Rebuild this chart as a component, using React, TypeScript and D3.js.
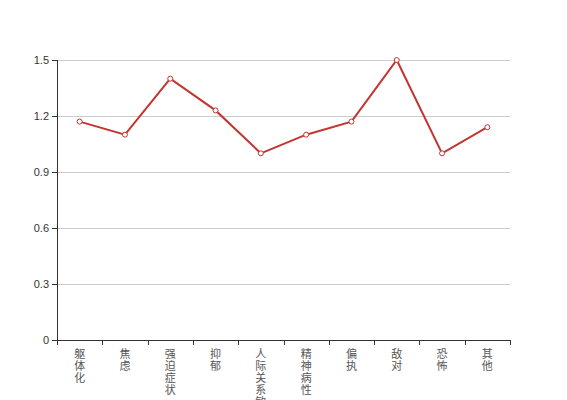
import React from "react";
import * as d3 from "d3";

const categories = ["躯体化", "焦虑", "强迫症状", "抑郁", "人际关系敏感", "精神病性", "偏执", "敌对", "恐怖", "其他"];
const values = [1.17, 1.1, 1.4, 1.23, 1.0, 1.1, 1.17, 1.5, 1.0, 1.14];
const yTicks = [0, 0.3, 0.6, 0.9, 1.2, 1.5];

const W = 567, H = 400;
const left = 57, right = 510, top = 60, bottom = 340;

export default function App() {
  const x = d3.scaleBand<string>().domain(categories).range([left, right]);
  const y = d3.scaleLinear().domain([0, 1.5]).range([bottom, top]);
  const line = d3.line<number>()
    .x((_, i) => (x(categories[i]) as number) + x.bandwidth() / 2)
    .y((d) => y(d));
  const font = "'Liberation Sans', 'Noto Sans CJK SC', sans-serif";
  const bounds = [...categories.map((c) => x(c) as number), right];
  return (
    <svg width={W} height={H} style={{ position: "absolute", left: 0, top: 0 }} fontFamily={font}>
      <rect width={W} height={H} fill="#fff" />
      {yTicks.filter((t) => t > 0).map((t) => (
        <line key={"g" + t} x1={left} x2={right} y1={y(t) + 0.5} y2={y(t) + 0.5} stroke="#ccc" />
      ))}
      {yTicks.map((t) => (
        <g key={"t" + t}>
          <line x1={left - 5} x2={left} y1={y(t) + 0.5} y2={y(t) + 0.5} stroke="#333" />
          <text x={left - 8} y={y(t)} dy="0.35em" textAnchor="end" fontSize={11} fill="#333">{String(t)}</text>
        </g>
      ))}
      <line x1={left + 0.5} x2={left + 0.5} y1={top} y2={bottom} stroke="#333" />
      <line x1={left} x2={right} y1={bottom + 0.5} y2={bottom + 0.5} stroke="#333" />
      {bounds.map((b, i) => (
        <line key={"xt" + i} x1={Math.round(b) + 0.5} x2={Math.round(b) + 0.5} y1={bottom} y2={bottom + 5} stroke="#333" />
      ))}
      {categories.map((c) => (
        <text key={c} x={(x(c) as number) + x.bandwidth() / 2} y={bottom + 7} textAnchor="middle" fontSize={11} fill="#555" fontFamily="'Noto Sans CJK SC', sans-serif">
          {Array.from(c).map((ch, j) => (
            <tspan key={j} x={(x(c) as number) + x.bandwidth() / 2} dy={j === 0 ? "1em" : 12}>{ch}</tspan>
          ))}
        </text>
      ))}
      <path d={line(values) || ""} fill="none" stroke="#c23531" strokeWidth={2} />
      {values.map((v, i) => (
        <circle key={i} cx={(x(categories[i]) as number) + x.bandwidth() / 2} cy={y(v)} r={2.5} fill="#fff" stroke="#c23531" strokeWidth={1} />
      ))}
    </svg>
  );
}
